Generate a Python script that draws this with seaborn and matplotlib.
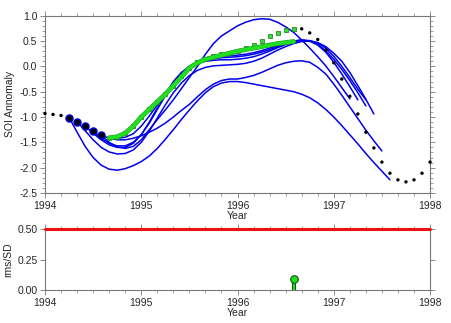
import numpy as np
import pandas as pd
import seaborn as sns
import matplotlib.pyplot as plt
import matplotlib.patheffects as pe
from matplotlib.ticker import MultipleLocator

# meses desde enero de 1994
def meses(k0, n):
    return [1994 + (k0 + i) / 12 for i in range(n)]

# SOI observado
obs_ini = [-0.93, -0.95, -0.97]                      # k0..k2
obs_grandes = [-1.01, -1.09, -1.18, -1.28, -1.36]    # k3..k7
obs_verde = [-1.41, -1.39, -1.32, -1.18, -1.00, -0.85, -0.70, -0.55,
             -0.38, -0.20, -0.03, 0.08, 0.15, 0.20, 0.24, 0.26,
             0.31, 0.36, 0.42, 0.50, 0.59, 0.66, 0.72, 0.74]   # k8..k31
obs_fin = [0.74, 0.66, 0.53, 0.32, 0.07, -0.25, -0.59, -0.94, -1.30,
           -1.61, -1.89, -2.11, -2.24, -2.28, -2.24, -2.11, -1.89]  # k32..k48

# linea verde gruesa
linea_verde = [-1.41, -1.39, -1.32, -1.18, -1.00, -0.85, -0.70, -0.55,
               -0.38, -0.21, -0.03, 0.07, 0.14, 0.18, 0.22, 0.26,
               0.30, 0.33, 0.36, 0.39, 0.42, 0.45, 0.47, 0.49]  # k8..k31

# predicciones (mes inicial, valores)
pred_A = (7, [-1.36, -1.50, -1.59, -1.62, -1.58, -1.45, -1.25, -1.05, -0.86, -0.66,
              -0.44, -0.22, 0.00, 0.24, 0.45, 0.60, 0.70, 0.80, 0.87, 0.92, 0.94,
              0.93, 0.87, 0.78, 0.67, 0.52, 0.36, 0.19, 0.01, -0.20, -0.42, -0.64])
pred_B = (6, [-1.28, -1.42, -1.52, -1.57, -1.57, -1.50, -1.35, -1.12, -0.85, -0.58,
              -0.34, -0.15, -0.02, 0.07, 0.12, 0.15, 0.17, 0.18, 0.19, 0.21, 0.24,
              0.28, 0.33, 0.39, 0.45, 0.50, 0.52, 0.50, 0.42, 0.28, 0.08, -0.15,
              -0.40, -0.66])
pred_C = (5, [-1.18, -1.32, -1.45, -1.55, -1.60, -1.60, -1.52, -1.35, -1.10, -0.82,
              -0.55, -0.30, -0.12, 0.00, 0.07, 0.10, 0.12, 0.13, 0.13, 0.14, 0.16,
              0.19, 0.24, 0.30, 0.37, 0.43, 0.48, 0.51, 0.51, 0.46, 0.36, 0.20,
              0.00, -0.22, -0.45, -0.66])
pred_D = (4, [-1.09, -1.27, -1.45, -1.60, -1.69, -1.73, -1.72, -1.65, -1.50, -1.28,
              -1.02, -0.76, -0.52, -0.33, -0.18, -0.08, -0.02, 0.01, 0.02, 0.03,
              0.04, 0.06, 0.10, 0.16, 0.24, 0.32, 0.39, 0.45, 0.49, 0.50, 0.47,
              0.39, 0.26, 0.10, -0.12, -0.38, -0.65, -0.94])
pred_E = (7, [-1.36, -1.42, -1.45, -1.45, -1.42, -1.37, -1.30, -1.22, -1.12, -1.00,
              -0.87, -0.75, -0.60, -0.46, -0.35, -0.28, -0.25, -0.25, -0.22, -0.18,
              -0.12, -0.05, 0.02, 0.07, 0.10, 0.11, 0.08, -0.02, -0.15, -0.35,
              -0.57, -0.80, -1.03, -1.26, -1.47, -1.67])
pred_F = (3, [-1.01, -1.30, -1.58, -1.80, -1.95, -2.03, -2.05, -2.02, -1.96, -1.88,
              -1.77, -1.62, -1.44, -1.25, -1.05, -0.86, -0.68, -0.52, -0.40, -0.33,
              -0.30, -0.30, -0.32, -0.35, -0.38, -0.41, -0.44, -0.47, -0.50, -0.55,
              -0.62, -0.72, -0.85, -1.00, -1.17, -1.35, -1.53, -1.72, -1.90, -2.07,
              -2.24])
pred_G = (8, [-1.41, -1.42, -1.40, -1.33, -1.18, -0.98, -0.76, -0.54, -0.33, -0.15,
              -0.02, 0.08, 0.14, 0.18, 0.20, 0.21, 0.22, 0.24, 0.27, 0.31, 0.36,
              0.41, 0.46, 0.50, 0.52, 0.50, 0.43, 0.31, 0.14, -0.06, -0.28, -0.52,
              -0.78])

# rms/SD
rms_t = [1996.583]
rms_v = [0.09]
ref_sd = 0.5

filas = []
for nombre, (k0, vals) in zip('ABCDEFG', [pred_A, pred_B, pred_C, pred_D, pred_E, pred_F, pred_G]):
    for t, v in zip(meses(k0, len(vals)), vals):
        filas.append({'t': t, 'v': v, 'run': nombre})
df_pred = pd.DataFrame(filas)

sns.set_style('ticks')
plt.rcParams['font.family'] = ['Liberation Sans', 'DejaVu Sans']
plt.rcParams['font.size'] = 7.5

fig = plt.figure(figsize=(4.52, 3.23), dpi=100)
ax1 = fig.add_axes([0.0996, 0.4025, 0.8518, 0.5489])
ax2 = fig.add_axes([0.0996, 0.102, 0.8518, 0.189])

sns.lineplot(data=df_pred, x='t', y='v', units='run', estimator=None,
             color='#0000ee', lw=1.1, ax=ax1, zorder=3)
sns.scatterplot(x=meses(8, len(obs_verde)), y=obs_verde, marker='s', s=6,
                color='#33dd33', edgecolor='#117711', linewidth=0.5, ax=ax1, zorder=4)
sns.lineplot(x=meses(8, len(linea_verde)), y=linea_verde, color='#22dd22',
             lw=2.7, ax=ax1, zorder=5,
             path_effects=[pe.Stroke(linewidth=3.4, foreground='#119911'), pe.Normal()])
sns.scatterplot(x=meses(0, 3) + meses(32, len(obs_fin)), y=obs_ini + obs_fin,
                color='black', s=6, edgecolor='none', ax=ax1, zorder=5, clip_on=False)
sns.scatterplot(x=meses(3, 5), y=obs_grandes, color='black', s=26,
                edgecolor='#0000dd', linewidth=1.0, ax=ax1, zorder=6)

ax2.bar(rms_t, rms_v, width=0.025, color='#22dd22', edgecolor='#115511', lw=0.7, zorder=3)
sns.scatterplot(x=rms_t, y=rms_v, color='#22dd22', edgecolor='#115511', s=30,
                linewidth=0.8, ax=ax2, zorder=4, clip_on=False)
sns.lineplot(x=[1994, 1998], y=[ref_sd, ref_sd], color='#ee1111', lw=2.2, ax=ax2,
             zorder=5, clip_on=False)

for ax in (ax1, ax2):
    ax.set_xlim(1994, 1998)
    ax.xaxis.set_minor_locator(MultipleLocator(1 / 6))
    ax.set_xticks([1994, 1995, 1996, 1997, 1998])
    ax.set_xticklabels(['1994', '1995', '1996', '1997', '1998'])
    ax.tick_params(which='both', direction='out', top=True, right=True,
                   color='#777777', labelsize=7.5, pad=2)
    ax.tick_params(which='major', length=3.5, width=0.6)
    ax.tick_params(which='minor', length=2, width=0.5)
    for sp in ax.spines.values():
        sp.set_visible(True)
        sp.set_color('#777777')
        sp.set_linewidth(0.8)
    ax.set_xlabel('Year', labelpad=0)

ax1.set_ylim(-2.5, 1.0)
ax1.set_yticks(np.arange(-2.5, 1.01, 0.5))
ax1.set_yticklabels(['-2.5', '-2.0', '-1.5', '-1.0', '-0.5', '0.0', '0.5', '1.0'])
ax1.yaxis.set_minor_locator(MultipleLocator(0.1))
ax1.set_ylabel('SOI Annomaly', labelpad=3)

ax2.set_ylim(0, 0.5)
ax2.set_yticks([0, 0.25, 0.5])
ax2.set_yticklabels(['0.00', '0.25', '0.50'])
ax2.set_ylabel('rms/SD', labelpad=3)

fig.savefig('out.png', dpi=100)
